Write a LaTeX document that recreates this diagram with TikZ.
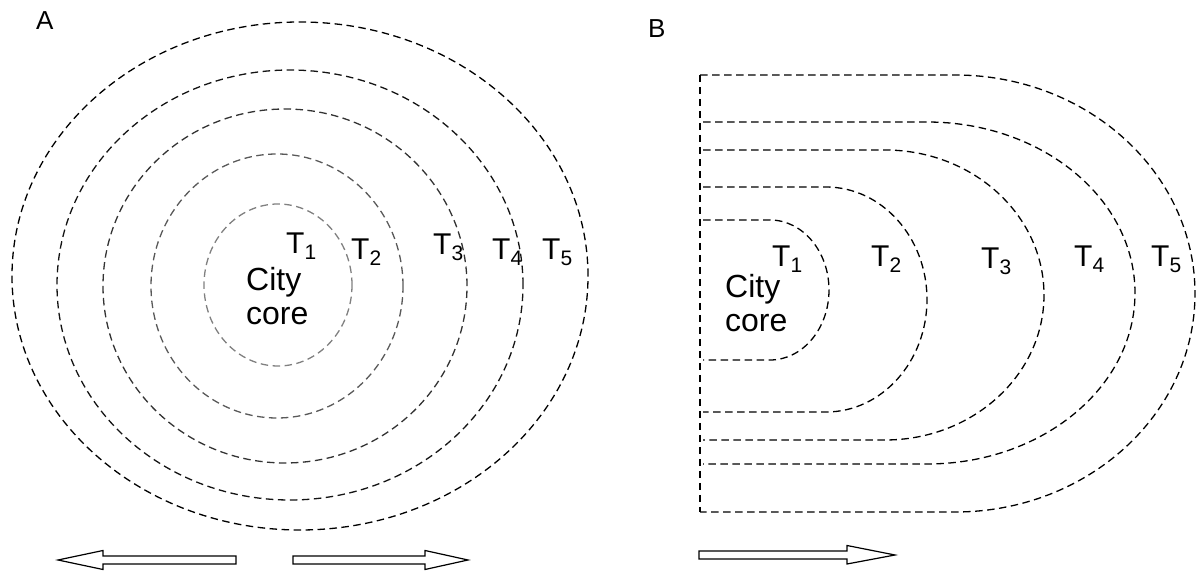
\documentclass[tikz,border=0pt]{standalone}
\usepackage{fontspec}
\setmainfont{Liberation Sans}
\usetikzlibrary{positioning}

\newcommand{\tzone}[1]{T\raisebox{-6pt}{\fontsize{21}{21}\selectfont #1}}

\begin{document}
\begin{tikzpicture}[x=1pt, y=1pt,
    ringline/.style={line width=1.3pt, dash pattern=on 7.5pt off 4.5pt},
    zonelabel/.style={anchor=base west, inner sep=0pt, font=\fontsize{30}{34}\selectfont},
    panellabel/.style={anchor=base west, inner sep=0pt, font=\fontsize{26}{30}\selectfont},
    corelabel/.style={anchor=base west, align=left, inner sep=0pt, font=\fontsize{32}{34}\selectfont},
    blockarrow/.style={draw=black, line width=1.2pt, fill=white, line join=miter}
  ]
  \useasboundingbox (0,0) rectangle (1200,573);

  % Panel labels
  \node[panellabel] (labA) at (36,543) {A};
  \node[panellabel] (labB) at (648,535) {B};

  % A: concentric rings round the core
  \draw[ringline, draw=black!50] (278,288) ellipse [x radius=74, y radius=81];
  \draw[ringline, draw=black!65] (277,287) ellipse [x radius=126, y radius=132];
  \draw[ringline, draw=black!80] (285,287) ellipse [x radius=182, y radius=177];
  \draw[ringline, draw=black!92] (290,288) ellipse [x radius=233, y radius=215];
  \draw[ringline] (300,297) ellipse [x radius=288, y radius=254];

  \node[corelabel] (coreA) at (246,248) {City\\core};
  \node[zonelabel] (a1) at (286,319) {\tzone{1}};
  \node[zonelabel] (a2) at (351,313) {\tzone{2}};
  \node[zonelabel] (a3) at (433,318) {\tzone{3}};
  \node[zonelabel] (a4) at (492,313) {\tzone{4}};
  \node[zonelabel] (a5) at (542,313) {\tzone{5}};

  % B: half rings against the edge
  \draw[ringline] (700,498) -- (700,61);
  \draw[ringline] (703,353) -- (770,353) arc[start angle=90, end angle=-90, x radius=59, y radius=70] -- (703,213);
  \draw[ringline] (703,386) -- (826,386) arc[start angle=90, end angle=-90, x radius=101, y radius=112.5] -- (703,161);
  \draw[ringline] (703,423) -- (885,423) arc[start angle=90, end angle=-90, x radius=159, y radius=145] -- (703,133);
  \draw[ringline] (703,451) -- (927,451) arc[start angle=90, end angle=-90, x radius=208, y radius=171] -- (703,109);
  \draw[ringline] (700,498) -- (955,498) arc[start angle=90, end angle=-90, x radius=240, y radius=218.5] -- (700,61);

  \node[corelabel] (coreB) at (725,241) {City\\core};
  \node[zonelabel] (b1) at (772,306) {\tzone{1}};
  \node[zonelabel] (b2) at (871,306) {\tzone{2}};
  \node[zonelabel] (b3) at (981,304) {\tzone{3}};
  \node[zonelabel] (b4) at (1074,306) {\tzone{4}};
  \node[zonelabel] (b5) at (1151,306) {\tzone{5}};

  % Growth arrows
  \draw[blockarrow] (236,9) -- (103,9) -- (103,3.5) -- (58,13) -- (103,22.5) -- (103,17) -- (236,17) -- cycle;
  \draw[blockarrow] (293,9) -- (425,9) -- (425,3.5) -- (468,13) -- (425,22.5) -- (425,17) -- (293,17) -- cycle;
  \draw[blockarrow] (699,14) -- (847,14) -- (847,9) -- (895,18) -- (847,27.5) -- (847,22) -- (699,22) -- cycle;
\end{tikzpicture}
\end{document}
